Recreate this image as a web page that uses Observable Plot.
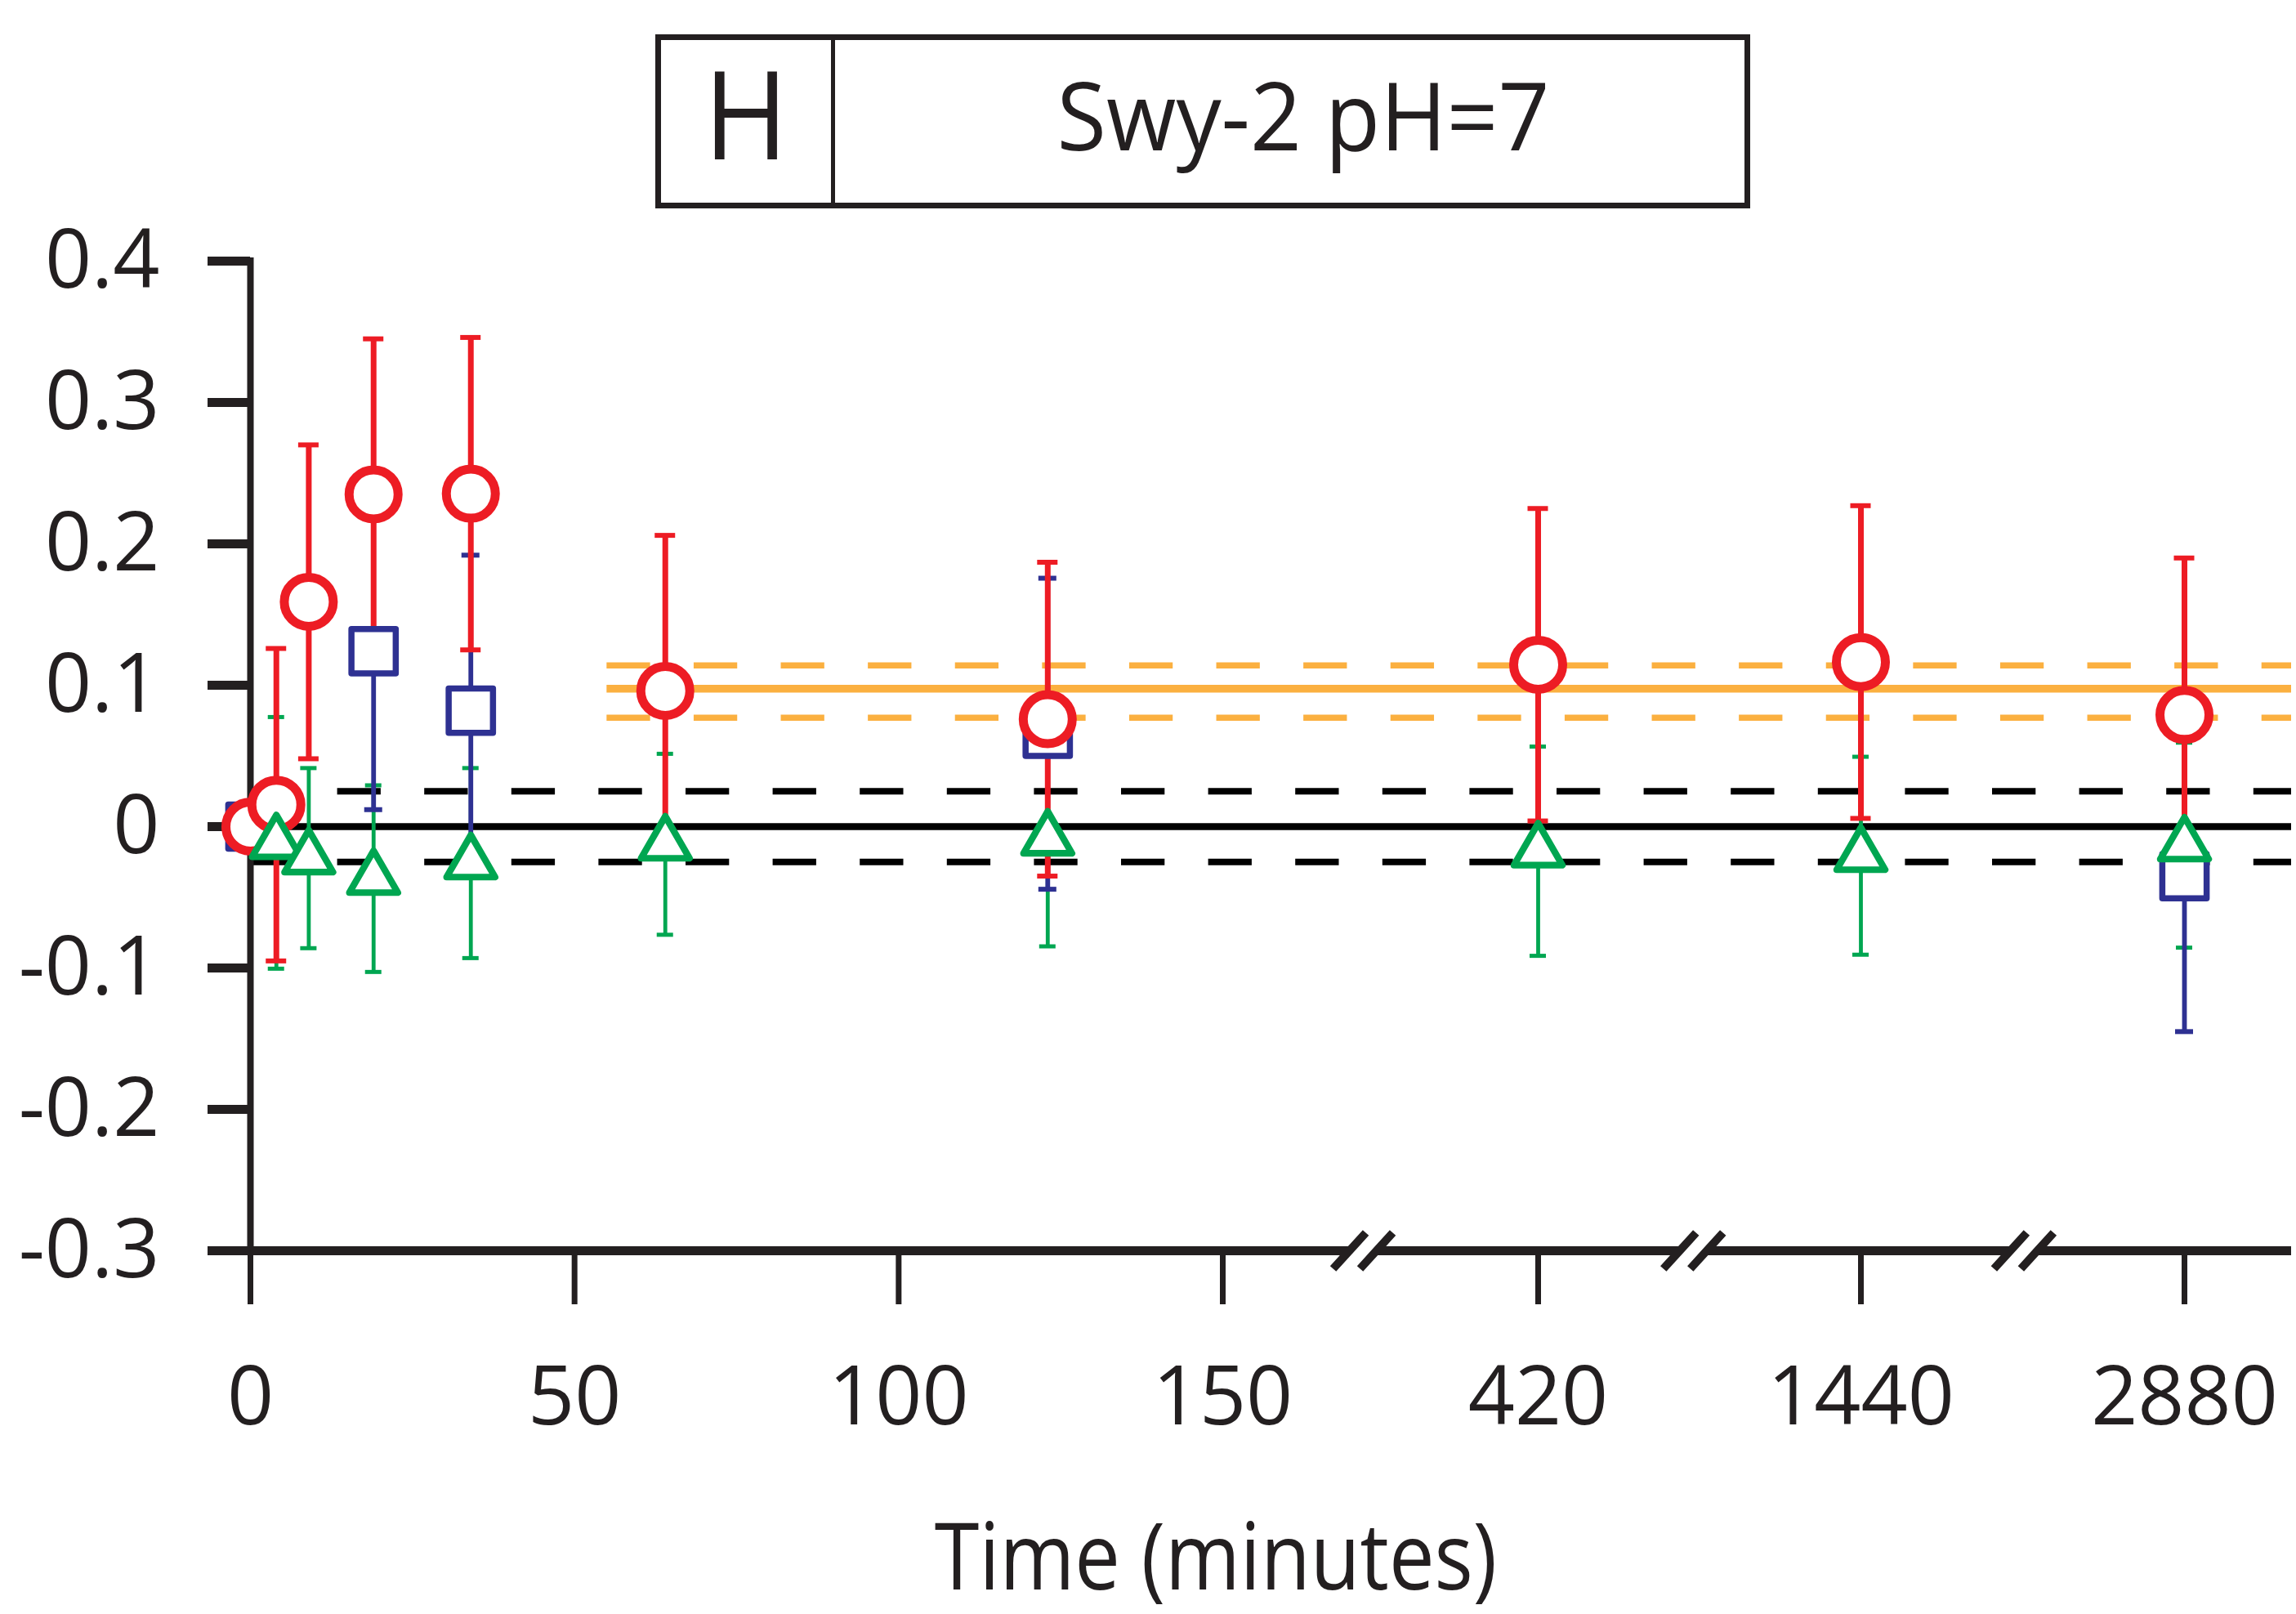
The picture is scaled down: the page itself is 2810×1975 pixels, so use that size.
<!DOCTYPE html>
<html>
<head>
<meta charset="utf-8">
<script src="https://cdn.jsdelivr.net/npm/d3@7"></script>
<script src="https://cdn.jsdelivr.net/npm/@observablehq/plot@0.6"></script>
<style>
  html, body { margin: 0; padding: 0; background: #ffffff; }
  body { position: relative; width: 2810px; height: 1975px; overflow: hidden;
         font-family: "Open Sans", sans-serif; color: #231F20; }
  #box { position: absolute; left: 802px; top: 41.5px; width: 1340px; height: 213px;
         box-sizing: border-box; border: 7.5px solid #231F20; }
  #divider { position: absolute; left: 1016.5px; top: 41.5px; width: 5px; height: 213px; background: #231F20; }
  .t { position: absolute; white-space: nowrap; text-align: center; line-height: 1; }
  #panel { left: 712.5px; width: 400px; top: 61px; font-size: 151px; transform: scaleX(0.93); }
  #title { left: 1195px; width: 800px; top: 81px; font-size: 116px; transform: scaleX(0.95); }
  #xlabel { left: 1088px; width: 800px; top: 1844px; font-size: 114px; transform: scaleX(0.87); }
  #chart { position: absolute; left: 0; top: 270px; }
</style>
</head>
<body>
<div id="box"></div>
<div id="divider"></div>
<div class="t" id="panel"></div>
<div class="t" id="title"></div>
<div id="chart"></div>
<div class="t" id="xlabel"></div>
<script>
// ---------------- data ----------------
const panelLetter = "H";
const panelTitle = "Swy-2 pH=7";
const xLabel = "Time (minutes)";

const times = [0, 4, 9, 19, 34, 64, 123, 420, 1440, 2880];

const redMean  = [0, 0.0155, 0.159, 0.235, 0.2355, 0.096, 0.076, 0.1145, 0.1164, 0.079];
const redErr   = [0, 0.1105, 0.111, 0.110, 0.1105, 0.110, 0.111, 0.1105, 0.1106, 0.111];

const blueMean = [0, null, null, 0.124, 0.082, null, 0.0657, null, null, -0.035];
const blueErr  = [0, null, null, 0.112, 0.110, null, 0.110, null, null, 0.110];

const greenMean = [null, -0.0115, -0.0223, -0.0368, -0.0258, -0.0125, -0.009, -0.0174, -0.0206, -0.0131];
const greenErr  = [null, 0.089, 0.0637, 0.066, 0.0672, 0.064, 0.0757, 0.074, 0.070, 0.0725];

const controlBand = [-0.025, 0.025];
const zeroLine = [0];
const orangeMean = [0.0975];
const orangeBand = [0.077, 0.114];
const orangeStart = 55;

const xTicks = [0, 50, 100, 150, 420, 1440, 2880];
const xTickLabels = ["0", "50", "100", "150", "420", "1440", "2880"];
const yTicks = [-0.3, -0.2, -0.1, 0, 0.1, 0.2, 0.3, 0.4];
const yTickLabels = ["-0.3", "-0.2", "-0.1", "0", "0.1", "0.2", "0.3", "0.4"];
const axisBreaks = [270, 910, 2165];

// ---------------- layout ----------------
const W = 2810, H = 1590;
const mt = 49, mb = 330, ml = 306, mr = 6;
const xDomain = [0, 150, 420, 1440, 2880];
const xRange  = [306, 1496, 1882, 2277, 2673];
const xEnd = d3.scaleLinear(xDomain, xRange).invert(W - mr);

const axisColor = "#231F20";
const RED = "#ED1C24", BLUE = "#2E3192", GREEN = "#00A651", ORANGE = "#FBB040";

document.getElementById("panel").textContent = panelLetter;
document.getElementById("title").textContent = panelTitle;
document.getElementById("xlabel").textContent = xLabel;

function series(mean, err) {
  return times.map((t, i) => ({t, v: mean[i], e: err[i]})).filter(d => d.v != null);
}
const red = series(redMean, redErr);
const blue = series(blueMean, blueErr);
const green = series(greenMean, greenErr);

function errorMarks(data, color, lineW, capW, capHalf) {
  const withE = data.filter(d => d.e > 0);
  return [
    Plot.ruleX(withE, {x: "t", y1: d => d.v - d.e, y2: d => d.v + d.e, stroke: color, strokeWidth: lineW}),
    Plot.ruleY(withE, {y: d => d.v + d.e, x1: "t", x2: "t", insetLeft: -capHalf, insetRight: -capHalf, stroke: color, strokeWidth: capW}),
    Plot.ruleY(withE, {y: d => d.v - d.e, x1: "t", x2: "t", insetLeft: -capHalf, insetRight: -capHalf, stroke: color, strokeWidth: capW})
  ];
}

// axis-break symbols ("//" with a gap in the axis line)
const breakGap = {draw(ctx) {
  ctx.moveTo(-9.2, -8); ctx.lineTo(23.8, -8); ctx.lineTo(9.2, 8); ctx.lineTo(-23.8, 8); ctx.closePath();
}};
const breakSlashes = {draw(ctx) {
  ctx.moveTo(-36.5, 22); ctx.lineTo(3.5, -22);
  ctx.moveTo(-3.5, 22); ctx.lineTo(36.5, -22);
}};

const chart = Plot.plot({
  width: W, height: H,
  marginTop: mt, marginBottom: mb, marginLeft: ml, marginRight: mr,
  x: {type: "linear", domain: xDomain, range: xRange},
  y: {domain: [-0.3, 0.4]},
  style: {background: "white", fontFamily: "'Open Sans', sans-serif", color: axisColor, overflow: "visible"},
  marks: [
    // reference lines
    Plot.ruleY(controlBand, {stroke: "#000", strokeWidth: 8, strokeDasharray: "53.3,53.3"}),
    Plot.ruleY(zeroLine, {stroke: "#000", strokeWidth: 8.5}),
    Plot.ruleY(orangeBand, {x1: orangeStart, x2: xEnd, stroke: ORANGE, strokeWidth: 7.5, strokeDasharray: "53.3,53.3"}),
    Plot.ruleY(orangeMean, {x1: orangeStart, x2: xEnd, stroke: ORANGE, strokeWidth: 9.5}),
    // axes
    Plot.ruleX([0], {y1: -0.3, y2: 0.4, stroke: axisColor, strokeWidth: 8, strokeLinecap: "square"}),
    Plot.ruleY([-0.3], {stroke: axisColor, strokeWidth: 11}),
    Plot.axisY(yTicks, {anchor: "left", tickSize: 52, tickPadding: 59, strokeWidth: 11, fontSize: 100,
      color: axisColor, label: null, tickFormat: d => yTickLabels[yTicks.indexOf(d)]}),
    Plot.axisX(xTicks, {anchor: "bottom", tickSize: 66, tickPadding: 75, strokeWidth: 7, fontSize: 100,
      color: axisColor, label: null, tickFormat: d => xTickLabels[xTicks.indexOf(d)]}),
    Plot.dot(axisBreaks, {x: d => d, y: () => -0.3, symbol: breakGap, r: 10, fill: "white", stroke: "none"}),
    Plot.dot(axisBreaks, {x: d => d, y: () => -0.3, symbol: breakSlashes, r: 10, fill: "none", stroke: axisColor, strokeWidth: 10}),
    // error bars
    ...errorMarks(green, GREEN, 4.8, 5, 10),
    ...errorMarks(blue, BLUE, 5.8, 6, 11),
    ...errorMarks(red, RED, 7, 6, 12.5),
    // markers
    Plot.dot(blue, {x: "t", y: "v", symbol: "square", r: 30.6, fill: "white", stroke: BLUE, strokeWidth: 7.5, strokeLinejoin: "round"}),
    Plot.dot(red, {x: "t", y: "v", symbol: "circle", r: 30, fill: "white", stroke: RED, strokeWidth: 11}),
    Plot.dot(green, {x: "t", y: "v", symbol: "triangle", r: 22, fill: "white", stroke: GREEN, strokeWidth: 8.2, strokeLinejoin: "round"})
  ]
});
document.getElementById("chart").appendChild(chart);
</script>
</body>
</html>
